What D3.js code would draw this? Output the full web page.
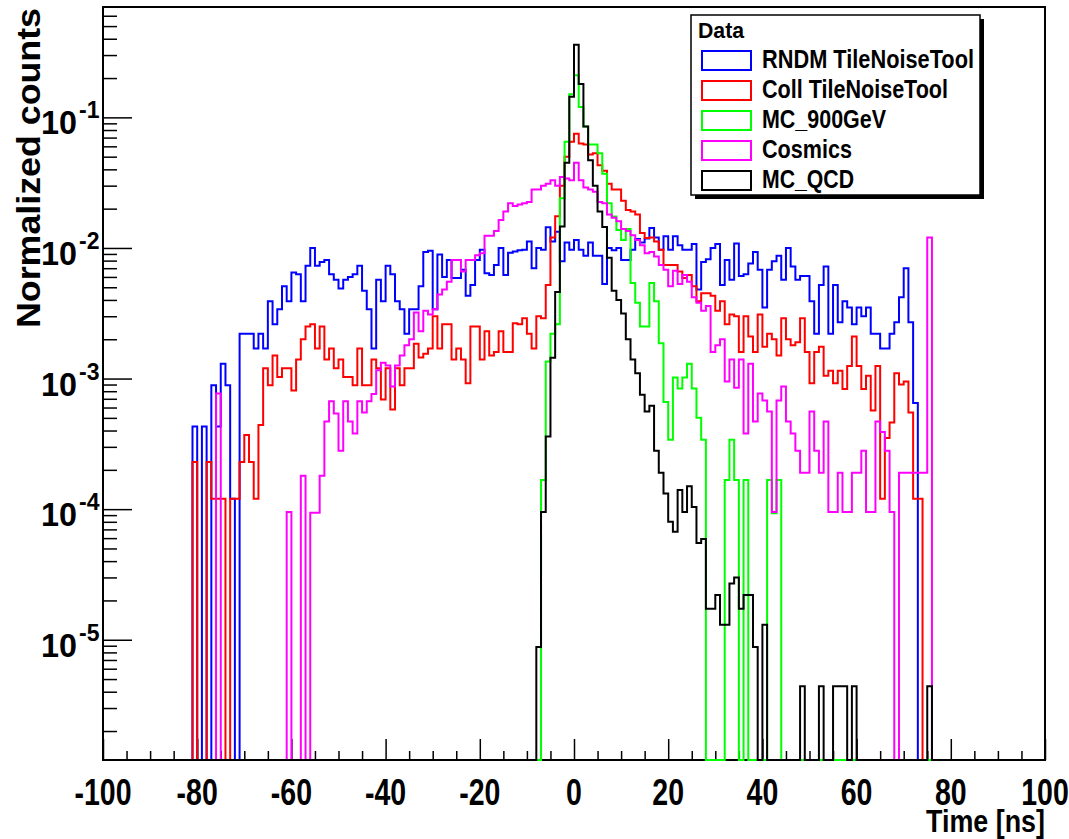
<!DOCTYPE html>
<html>
<head>
<meta charset="utf-8">
<script src="https://cdn.jsdelivr.net/npm/d3@7"></script>
<style>
  body { margin: 0; background: #fff; }
  svg { display: block; font-family: "Liberation Sans", Arial, sans-serif; }
</style>
</head>
<body>
<svg id="chart" width="1069" height="839"></svg>
<script>
// 1 ns bins, first stored bin is [-82,-81); everything outside the arrays is empty
const binStart = -82;

const rndm = [
  0, 4.3e-4, 0, 4.3e-4, 0, 8.9e-4, 4.3e-4, 1.3e-3, 8.9e-4, 1.2e-4,                 // -82
  0, 2.2e-3, 2.2e-3, 2.2e-3, 1.7e-3, 2.2e-3, 1.7e-3, 3.9e-3, 2.6e-3, 3.4e-3,        // -72
  5.1e-3, 3.9e-3, 6.5e-3, 6.3e-3, 3.9e-3, 7.3e-3, 1.0e-2, 7.3e-3, 7.8e-3, 8.1e-3,   // -62
  6.3e-3, 5.7e-3, 4.9e-3, 5.7e-3, 6.0e-3, 6.3e-3, 7.3e-3, 4.7e-3, 3.4e-3, 1.7e-3,   // -52
  5.7e-3, 3.9e-3, 7.3e-3, 6.3e-3, 3.9e-3, 3.4e-3, 2.2e-3, 3.4e-3, 3.4e-3, 5.1e-3,   // -42
  9.3e-3, 9.5e-3, 3.4e-3, 8.9e-3, 6.0e-3, 8.1e-3, 5.9e-3, 5.9e-3, 6.8e-3, 4.3e-3,   // -32
  5.2e-3, 8.1e-3, 9.7e-3, 6.4e-3, 6.2e-3, 7.4e-3, 1.0e-2, 6.2e-3, 9.2e-3, 9.4e-3,   // -22
  9.6e-3, 9.7e-3, 1.12e-2, 7.0e-3, 1.0e-2, 9.7e-3, 1.44e-2, 1.12e-2, 1.33e-2, 7.9e-3, // -12
  1.1e-2, 9.7e-3, 1.15e-2, 9.7e-3, 8.7e-3, 1.1e-2, 8.7e-3, 8.7e-3, 5.3e-3, 1.0e-2,  // -2
  9.6e-3, 1.0e-2, 8.1e-3, 8.1e-3, 9.7e-3, 1.17e-2, 1.1e-2, 1.18e-2, 1.42e-2, 1.2e-2, // 8
  9.7e-3, 1.23e-2, 9.7e-3, 1.23e-2, 1.05e-2, 9.7e-3, 9.7e-3, 1.07e-2, 4.8e-3, 7.8e-3, // 18
  8.2e-3, 1.0e-2, 1.07e-2, 5.2e-3, 8.1e-3, 5.7e-3, 1.08e-2, 6.1e-3, 6.3e-3, 7.6e-3, // 28
  9.3e-3, 6.8e-3, 3.5e-3, 6.8e-3, 7.9e-3, 8.7e-3, 5.7e-3, 1.0e-2, 7.2e-3, 5.7e-3,   // 38
  6.1e-3, 6.1e-3, 3.9e-3, 2.2e-3, 5.2e-3, 7.2e-3, 2.2e-3, 5.2e-3, 2.7e-3, 3.9e-3,   // 48
  3.5e-3, 2.6e-3, 3.5e-3, 3.0e-3, 3.5e-3, 2.2e-3, 2.2e-3, 1.7e-3, 1.7e-3, 2.2e-3,   // 58
  2.7e-3, 4.2e-3, 7.0e-3, 2.7e-3, 6.5e-4, 0, 0, 0, 0, 0                              // 68
];

const coll = [
  0, 2.3e-4, 0, 0, 2.3e-4, 1.2e-4, 1.2e-4, 1.2e-4, 0, 1.2e-4,                       // -82
  1.2e-4, 2.3e-4, 3.7e-4, 2.3e-4, 1.2e-4, 4.4e-4, 1.2e-3, 8.9e-4, 1.5e-3, 1.03e-3,  // -72
  1.2e-3, 1.2e-3, 8.1e-4, 1.4e-3, 2.0e-3, 2.5e-3, 2.6e-3, 1.7e-3, 2.5e-3, 1.4e-3,   // -62
  1.7e-3, 1.2e-3, 1.4e-3, 1.03e-3, 1.03e-3, 8.9e-4, 1.7e-3, 8.9e-4, 8.9e-4, 1.4e-3, // -52
  1.2e-3, 6.9e-4, 1.2e-3, 5.8e-4, 1.2e-3, 8.9e-4, 1.2e-3, 1.2e-3, 1.85e-3, 1.45e-3, // -42
  1.55e-3, 1.7e-3, 3.0e-3, 1.7e-3, 2.6e-3, 2.6e-3, 1.4e-3, 1.7e-3, 1.4e-3, 9.2e-4, // -32
  2.5e-3, 2.5e-3, 1.4e-3, 2.3e-3, 1.5e-3, 1.6e-3, 2.3e-3, 1.6e-3, 1.6e-3, 2.65e-3,  // -22
  2.6e-3, 2.9e-3, 2.2e-3, 1.7e-3, 3.0e-3, 2.9e-3, 5.2e-3, 1.2e-2, 1.75e-2, 3.0e-2,  // -12
  5.0e-2, 6.5e-2, 7.5e-2, 6.3e-2, 6.2e-2, 5.2e-2, 5.3e-2, 4.3e-2, 3.9e-2, 3.1e-2,   // -2
  2.8e-2, 2.8e-2, 2.3e-2, 1.95e-2, 1.9e-2, 1.8e-2, 1.3e-2, 1.19e-2, 1.2e-2, 1.12e-2, // 8
  9.7e-3, 7.4e-3, 7.4e-3, 7.4e-3, 6.6e-3, 5.9e-3, 6.2e-3, 5.1e-3, 3.9e-3, 4.5e-3,   // 18
  4.5e-3, 4.3e-3, 3.3e-3, 3.9e-3, 2.6e-3, 3.1e-3, 3.0e-3, 1.6e-3, 3.0e-3, 2.1e-3,   // 28
  1.6e-3, 3.1e-3, 1.75e-3, 2.2e-3, 2.0e-3, 1.5e-3, 2.9e-3, 2.0e-3, 1.8e-3, 1.9e-3,  // 38
  2.9e-3, 1.6e-3, 9.2e-4, 1.6e-3, 1.75e-3, 1.05e-3, 1.15e-3, 9.2e-4, 1.15e-3, 8.3e-4, // 48
  1.25e-3, 2.1e-3, 1.25e-3, 8.3e-4, 1.05e-3, 5.7e-4, 1.25e-3, 1.2e-4, 3.5e-4, 4.6e-4, // 58
  1.1e-3, 9e-4, 9.5e-4, 5.5e-4, 1.2e-4, 1.2e-4, 0, 0, 0, 0                           // 68
];

const mc900 = [
  0, 0, 0, 0, 0, 0, 0, 0, 0, 0,                                                      // -82
  0, 0, 0, 0, 0, 0, 0, 0, 0, 0,                                                      // -72
  0, 0, 0, 0, 0, 0, 0, 0, 0, 0,                                                      // -62
  0, 0, 0, 0, 0, 0, 0, 0, 0, 0,                                                      // -52
  0, 0, 0, 0, 0, 0, 0, 0, 0, 0,                                                      // -42
  0, 0, 0, 0, 0, 0, 0, 0, 0, 0,                                                      // -32
  0, 0, 0, 0, 0, 0, 0, 0, 0, 0,                                                      // -22
  0, 0, 0, 0, 0, 1.67e-4, 1.35e-3, 2.2e-3, 2.6e-3, 2.4e-2,                           // -12
  6.5e-2, 0.15, 0.21, 0.12, 0.085, 0.062, 0.062, 0.053, 0.037, 0.022,                // -2
  0.0174, 0.0137, 0.0115, 0.014, 5.4e-3, 3.8e-3, 2.5e-3, 2.5e-3, 5.4e-3, 3.9e-3,     // 8
  1.86e-3, 6.6e-4, 3.4e-4, 1.02e-3, 8.4e-4, 1.02e-3, 1.3e-3, 8.4e-4, 5.0e-4, 3.4e-4, // 18
  0, 0, 0, 0, 1.67e-4, 3.4e-4, 1.67e-4, 0, 1.67e-4, 0,                               // 28
  0, 0, 0, 1.67e-4, 9.3e-5, 1.67e-4, 0, 0, 0, 0,                                     // 38
  0, 0, 0, 0, 0, 0, 0, 0, 0, 0,                                                      // 48
  0, 0, 0, 0, 0, 0, 0, 0, 0, 0,                                                      // 58
  0, 0, 0, 0, 0, 0, 0, 0, 0, 0                                                       // 68
];

const cosmics = [
  0, 0, 0, 0, 0, 0, 7.7e-4, 0, 0, 0,                                                 // -82
  0, 0, 0, 0, 0, 0, 0, 0, 0, 0,                                                      // -72
  0, 9.5e-5, 0, 0, 1.8e-4, 0, 9.4e-5, 9.4e-5, 1.8e-4, 4.7e-4,                        // -62
  6.7e-4, 5.4e-4, 2.8e-4, 6.7e-4, 4.7e-4, 3.8e-4, 6.7e-4, 5.5e-4, 6.7e-4, 7.6e-4,   // -52
  1.16e-3, 1.32e-3, 1.26e-3, 8.7e-4, 1.26e-3, 1.5e-3, 1.8e-3, 2.0e-3, 3.2e-3, 2.3e-3, // -42
  3.3e-3, 3.1e-3, 3.4e-3, 4.4e-3, 4.8e-3, 5.5e-3, 8.1e-3, 8.1e-3, 6.6e-3, 8.1e-3,   // -32
  8.1e-3, 8.8e-3, 9.1e-3, 1.24e-2, 1.24e-2, 1.35e-2, 1.64e-2, 1.9e-2, 2.2e-2, 2.1e-2, // -22
  2.15e-2, 2.2e-2, 2.25e-2, 2.8e-2, 2.8e-2, 3.0e-2, 3.1e-2, 3.3e-2, 3.0e-2, 3.5e-2, // -12
  3.4e-2, 3.3e-2, 4.5e-2, 3.3e-2, 2.9e-2, 2.8e-2, 2.7e-2, 2.25e-2, 2.2e-2, 1.8e-2,  // -2
  1.7e-2, 1.6e-2, 1.4e-2, 1.35e-2, 1.25e-2, 1.15e-2, 1.05e-2, 9.1e-3, 9.3e-3, 8.6e-3, // 8
  7.4e-3, 6.8e-3, 5.1e-3, 6.7e-3, 5.3e-3, 6.2e-3, 5.5e-3, 4.2e-3, 3.8e-3, 3.3e-3,   // 18
  3.6e-3, 1.6e-3, 1.8e-3, 2.0e-3, 9.5e-4, 1.4e-3, 8.5e-4, 1.4e-3, 3.8e-4, 1.3e-3,   // 28
  4.7e-4, 7.7e-4, 6.8e-4, 5.6e-4, 9.5e-5, 6.8e-4, 8.7e-4, 4.7e-4, 3.8e-4, 2.8e-4,   // 38
  1.9e-4, 1.9e-4, 5.6e-4, 2.8e-4, 1.9e-4, 4.7e-4, 9.5e-5, 9.5e-5, 1.9e-4, 9.5e-5,   // 48
  9.5e-5, 1.9e-4, 1.9e-4, 2.8e-4, 9.5e-5, 9.5e-5, 4.7e-4, 3.9e-4, 2.8e-4, 9.5e-5,   // 58
  0, 1.9e-4, 1.9e-4, 1.9e-4, 1.9e-4, 1.9e-4, 1.9e-4, 1.2e-2, 0, 0                    // 68
];

const mcqcd = [
  0, 0, 0, 0, 0, 0, 0, 0, 0, 0,                                                      // -82
  0, 0, 0, 0, 0, 0, 0, 0, 0, 0,                                                      // -72
  0, 0, 0, 0, 0, 0, 0, 0, 0, 0,                                                      // -62
  0, 0, 0, 0, 0, 0, 0, 0, 0, 0,                                                      // -52
  0, 0, 0, 0, 0, 0, 0, 0, 0, 0,                                                      // -42
  0, 0, 0, 0, 0, 0, 0, 0, 0, 0,                                                      // -32
  0, 0, 0, 0, 0, 0, 0, 0, 0, 0,                                                      // -22
  0, 0, 0, 0, 8.8e-6, 9.5e-5, 3.6e-4, 1.44e-3, 4.6e-3, 1.46e-2,                      // -12
  4.5e-2, 0.144, 0.36, 0.18, 0.085, 0.047, 0.030, 0.019, 0.0145, 8.4e-3,             // -2
  4.7e-3, 4.0e-3, 3.15e-3, 2.0e-3, 1.4e-3, 1.1e-3, 7.5e-4, 5.6e-4, 6.2e-4, 2.8e-4,   // 8
  1.9e-4, 1.32e-4, 8.0e-5, 6.7e-5, 1.4e-4, 9.5e-5, 1.5e-4, 1.04e-4, 5.5e-5, 5.9e-5, // 18
  1.73e-5, 1.73e-5, 2.2e-5, 1.3e-5, 1.3e-5, 2.7e-5, 3.0e-5, 1.73e-5, 2.2e-5, 2.2e-5, // 28
  8.8e-6, 0, 1.3e-5, 0, 0, 0, 0, 0, 0, 0,                                            // 38
  4.4e-6, 0, 0, 0, 4.4e-6, 0, 0, 4.4e-6, 4.4e-6, 4.4e-6,                             // 48
  0, 4.4e-6, 0, 0, 0, 0, 0, 0, 0, 0,                                                 // 58
  0, 0, 0, 0, 0, 0, 0, 4.4e-6, 0, 0                                                  // 68
];

const seriesNames = ["RNDM TileNoiseTool", "Coll TileNoiseTool", "MC_900GeV", "Cosmics", "MC_QCD"];
const seriesColors = ["#0000ff", "#ff0000", "#00ff00", "#ff00ff", "#000000"];
const seriesValues = [rndm, coll, mc900, cosmics, mcqcd];

const xTickLabels = d3.range(-100, 101, 20);
const yDecades = [1e-1, 1e-2, 1e-3, 1e-4, 1e-5];
const yDecadeLabels = ["-1", "-2", "-3", "-4", "-5"];

let svg = d3.select("#chart"),
    margin = {top: 7, right: 24, bottom: 79, left: 103},
    width = +svg.attr("width"),
    height = +svg.attr("height");

let x = d3.scaleLinear()
    .domain([-100, 100])
    .range([margin.left, width - margin.right]);

let y = d3.scaleLog()
    .domain([1.2e-6, 0.7])
    .range([height - margin.bottom, margin.top]);

let bottom = y.range()[0];

// text with a horizontal squeeze, ROOT fonts look narrow here
function label(g, s, px, py, size, anchor, sx) {
    return g.append("text")
        .attr("transform", "translate(" + px + "," + py + ") scale(" + sx + ",1)")
        .attr("text-anchor", anchor)
        .attr("font-size", size)
        .attr("font-weight", "bold")
        .attr("fill", "#000")
        .text(s);
}

// frame
svg.append("rect")
    .attr("x", x(-100)).attr("y", y(0.7))
    .attr("width", x(100) - x(-100))
    .attr("height", bottom - y(0.7))
    .attr("fill", "none")
    .attr("stroke", "#000")
    .attr("stroke-width", 2);

// x ticks (inside the frame)
let xMinor = d3.range(-95, 100, 5).filter(v => v % 20 !== 0);
svg.append("g")
    .attr("transform", "translate(0," + bottom + ")")
    .call(d3.axisBottom(x).tickValues(xMinor).tickSize(-9).tickFormat(""))
    .call(g => g.select(".domain").remove());
svg.append("g")
    .attr("transform", "translate(0," + bottom + ")")
    .call(d3.axisBottom(x).tickValues(xTickLabels).tickSize(-21).tickFormat(""))
    .call(g => g.select(".domain").remove());
svg.selectAll(".tick line").attr("stroke-width", 1.5);

xTickLabels.forEach(v => {
    label(svg, String(v), x(v), 805, 37, "middle", 0.77);
});
label(svg, "Time [ns]", x(100), 832, 32, "end", 0.84);

// y ticks
let yMinor = [];
[1e-6, 1e-5, 1e-4, 1e-3, 1e-2, 1e-1].forEach(d => {
    for (let m = 2; m <= 9; m++) {
        let v = d * m;
        if (v > y.domain()[0] && v < y.domain()[1]) yMinor.push(v);
    }
});
svg.append("g")
    .attr("transform", "translate(" + margin.left + ",0)")
    .call(d3.axisLeft(y).tickValues(yMinor).tickSize(-14).tickFormat(""))
    .call(g => g.select(".domain").remove());
svg.append("g")
    .attr("transform", "translate(" + margin.left + ",0)")
    .call(d3.axisLeft(y).tickValues(yDecades).tickSize(-29).tickFormat(""))
    .call(g => g.select(".domain").remove());
svg.selectAll(".tick line").attr("stroke-width", 1.5);

yDecades.forEach((v, i) => {
    label(svg, "10", 77, y(v) + 17, 34, "end", 0.95);
    label(svg, yDecadeLabels[i], 79, y(v) + 1, 23, "start", 1);
});

svg.append("text")
    .attr("transform", "translate(40,328) rotate(-90)")
    .attr("font-size", 33)
    .attr("font-weight", "bold")
    .attr("textLength", 320)
    .attr("lengthAdjust", "spacingAndGlyphs")
    .text("Normalized counts");

// histograms, empty bins lie on the lower edge like ROOT draws them
let line = d3.line();
function histPoints(vals) {
    let pts = [];
    for (let k = -100; k < 100; k++) {
        let i = k - binStart;
        let v = (i >= 0 && i < vals.length) ? vals[i] : 0;
        let yy = v > 0 ? y(Math.max(v, y.domain()[0])) : bottom;
        pts.push([x(k), yy], [x(k + 1), yy]);
    }
    return pts;
}

svg.append("g")
    .selectAll("path")
    .data(seriesValues)
    .enter()
    .append("path")
    .attr("d", d => line(histPoints(d)))
    .attr("fill", "none")
    .attr("stroke", (d, i) => seriesColors[i])
    .attr("stroke-width", 2)
    .attr("stroke-linejoin", "miter");

// legend
let leg = svg.append("g");
leg.append("rect")
    .attr("x", 695).attr("y", 19)
    .attr("width", 289).attr("height", 180)
    .attr("fill", "#000");
leg.append("rect")
    .attr("x", 691).attr("y", 15)
    .attr("width", 289).attr("height", 180)
    .attr("fill", "#fff")
    .attr("stroke", "#000")
    .attr("stroke-width", 1.5);
leg.append("text")
    .attr("x", 698).attr("y", 38)
    .attr("font-size", 22)
    .attr("font-weight", "bold")
    .attr("textLength", 46)
    .attr("lengthAdjust", "spacingAndGlyphs")
    .text("Data");

let legWidths = [212, 186, 124, 90, 92];
seriesNames.forEach((name, i) => {
    let top = 50 + i * 30;
    leg.append("rect")
        .attr("x", 702).attr("y", top + 1)
        .attr("width", 49).attr("height", 19)
        .attr("fill", "#fff")
        .attr("stroke", seriesColors[i])
        .attr("stroke-width", 2);
    leg.append("text")
        .attr("x", 762).attr("y", top + 18)
        .attr("font-size", 25)
        .attr("font-weight", "bold")
        .attr("textLength", legWidths[i])
        .attr("lengthAdjust", "spacingAndGlyphs")
        .text(name);
});
</script>
</body>
</html>
